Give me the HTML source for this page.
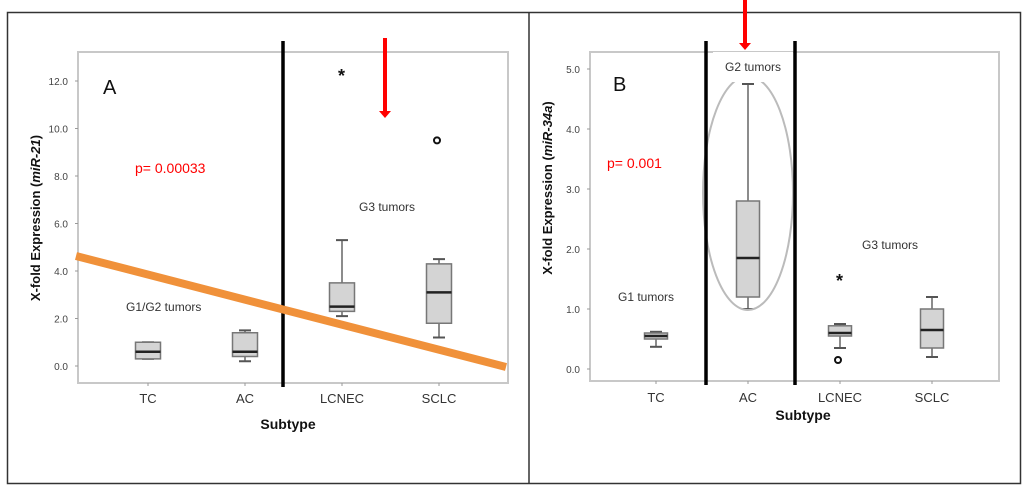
<!DOCTYPE html>
<html><head><meta charset="utf-8"><style>
html,body{margin:0;padding:0;background:#fff;width:1024px;height:489px;overflow:hidden}
svg{display:block;font-family:"Liberation Sans",sans-serif}
</style></head><body>
<svg id="c" width="1024" height="489" viewBox="0 0 1024 489"></svg>
<script>
const categories = ["TC","AC","LCNEC","SCLC"];
// panel A (miR-21)
const aLo  = [0.3, 0.2, 2.1, 1.2];
const aQ1  = [0.3, 0.4, 2.3, 1.8];
const aMed = [0.6, 0.6, 2.5, 3.1];
const aQ3  = [1.0, 1.4, 3.5, 4.3];
const aHi  = [1.0, 1.5, 5.3, 4.5];
const aTicks = [0,2,4,6,8,10,12];
const aStars = [[2, 12.3]];
const aCircles = [[3, 9.5]];
// panel B (miR-34a)
const bLo  = [0.37, 1.0, 0.35, 0.2];
const bQ1  = [0.5, 1.2, 0.55, 0.35];
const bMed = [0.55, 1.85, 0.6, 0.65];
const bQ3  = [0.6, 2.8, 0.72, 1.0];
const bHi  = [0.62, 4.75, 0.75, 1.2];
const bTicks = [0,1,2,3,4,5];
const bStars = [[2, 1.5]];
const bCircles = [[2, 0.15]];

const NS="http://www.w3.org/2000/svg";
const svg=document.getElementById('c');
function mk(tag,attrs,parent,text){const e=document.createElementNS(NS,tag);for(const k in attrs)e.setAttribute(k,attrs[k]);if(text!==undefined)e.textContent=text;(parent||svg).appendChild(e);return e;}

// outer frames
let f=mk('rect',{x:7.5,y:12.5,width:1013,height:471,fill:'none',stroke:'#333','stroke-width':1.5});


let d=mk('line',{x1:529,y1:12,x2:529,y2:484,stroke:'#333','stroke-width':1.5});



function panel(cfg){
  const g=mk('g',{});
  
  
  const y=v=>cfg.y0-(v)*cfg.ppu;
  const x=i=>cfg.xs0+i*cfg.dx;
  const box=mk('rect',{x:cfg.L,y:cfg.T,width:cfg.R-cfg.L,height:cfg.B-cfg.T,fill:'none',stroke:'#c8c8c8','stroke-width':2},g);
  
  
  cfg.ticks.forEach(t=>{
    const tl=mk('line',{x1:cfg.L-3,x2:cfg.L,y1:y(t),y2:y(t),stroke:'#999'},g);
    
    
    const tx=mk('text',{x:cfg.L-10,y:y(t)+4,'text-anchor':'end','font-size':10,fill:'#444'},g,t.toFixed(1));
    
    
  });
  categories.forEach((c,i)=>{
    const tl=mk('line',{x1:x(i),x2:x(i),y1:cfg.B,y2:cfg.B+3,stroke:'#999'},g);
    
    
    const tx=mk('text',{x:x(i),y:cfg.xlabY,'text-anchor':'middle','font-size':13,fill:'#333'},g,c);
    
    
    const bg=mk('g',{},g);
    
    
    const w=cfg.bw;
    mk('line',{x1:x(i),x2:x(i),y1:y(cfg.lo[i]),y2:y(cfg.hi[i]),stroke:'#666','stroke-width':1.5},bg);
    [cfg.lo[i],cfg.hi[i]].forEach(v=>mk('line',{x1:x(i)-6,x2:x(i)+6,y1:y(v),y2:y(v),stroke:'#555','stroke-width':2},bg));
    mk('rect',{x:x(i)-w/2,y:y(cfg.q3[i]),width:w,height:y(cfg.q1[i])-y(cfg.q3[i]),fill:'#d4d4d4',stroke:'#777','stroke-width':1.5},bg);
    mk('line',{x1:x(i)-w/2,x2:x(i)+w/2,y1:y(cfg.med[i]),y2:y(cfg.med[i]),stroke:'#222','stroke-width':2.5},bg);
  });
  cfg.stars.forEach(s=>{const t=mk('text',{x:x(s[0])-4,y:y(s[1])+8,'font-size':18,'font-weight':'bold',fill:'#111'},g,'*');
    });
  cfg.circles.forEach(s=>{const c=mk('circle',{cx:x(s[0])-2,cy:y(s[1]),r:3,fill:'none',stroke:'#111','stroke-width':2},g);
    });
  const yl=mk('text',{transform:`translate(${cfg.ylx},${cfg.yly}) rotate(-90)`,'text-anchor':'middle','font-size':13,'font-weight':'bold',fill:'#111'},g);
  yl.innerHTML='X-fold Expression (<tspan font-style="italic">'+cfg.mir+'</tspan>)';
  
  
  const xl=mk('text',{x:cfg.subX,y:cfg.subY,'text-anchor':'middle','font-size':14,'font-weight':'bold',fill:'#111'},g,'Subtype');
  
  
  return g;
}
const gA=panel({name:'panel-a',L:78,R:508,T:52,B:383,y0:366,ppu:23.75,xs0:148,dx:97,bw:25,ticks:aTicks,
  lo:aLo,q1:aQ1,med:aMed,q3:aQ3,hi:aHi,stars:aStars,circles:aCircles,xlabY:403,subX:288,subY:429,ylx:40,yly:218,mir:'miR-21'});
const gB=panel({name:'panel-b',L:590,R:999,T:52,B:381,y0:369,ppu:60,xs0:656,dx:92,bw:23,ticks:bTicks,
  lo:bLo,q1:bQ1,med:bMed,q3:bQ3,hi:bHi,stars:bStars,circles:bCircles,xlabY:402,subX:803,subY:420,ylx:552,yly:188,mir:'miR-34a'});

function el(tag,attrs,name,text){const e=mk(tag,attrs,svg,text);return e;}
// Panel A annotations
el('line',{x1:283,y1:41,x2:283,y2:387,stroke:'#000','stroke-width':3.5},'group-divider-a');
el('line',{x1:76,y1:256,x2:506,y2:367,stroke:'#f0913a','stroke-width':8},'trend-line');
el('line',{x1:385,y1:38,x2:385,y2:112,stroke:'#f00','stroke-width':4},'arrow-a');
el('polygon',{points:'379,111 391,111 385,118',fill:'#f00'},'arrow-a-head');
el('text',{x:103,y:94,'font-size':20,fill:'#111'},'panel-label-a','A');
el('text',{x:135,y:173,'font-size':14,fill:'#f00'},'p-value-a','p= 0.00033');
el('text',{x:359,y:211,'font-size':12,fill:'#333'},'g3-label-a','G3 tumors');
el('text',{x:126,y:311,'font-size':12,fill:'#333'},'g1g2-label','G1/G2 tumors');
// Panel B annotations
el('ellipse',{cx:748,cy:193,rx:45,ry:117,fill:'none',stroke:'#bbb','stroke-width':2},'ac-highlight');
el('rect',{x:713,y:52,width:80,height:30,fill:'#fff'},'g2-label-bg');
el('text',{x:753,y:71,'text-anchor':'middle','font-size':12,fill:'#333'},'g2-label','G2 tumors');
el('line',{x1:706,y1:41,x2:706,y2:385,stroke:'#000','stroke-width':3.5},'group-divider-b1');
el('line',{x1:795,y1:41,x2:795,y2:385,stroke:'#000','stroke-width':3.5},'group-divider-b2');
el('line',{x1:745,y1:0,x2:745,y2:44,stroke:'#f00','stroke-width':4},'arrow-b');
el('polygon',{points:'739,43 751,43 745,50',fill:'#f00'},'arrow-b-head');
el('text',{x:613,y:91,'font-size':20,fill:'#111'},'panel-label-b','B');
el('text',{x:607,y:168,'font-size':14,fill:'#f00'},'p-value-b','p= 0.001');
el('text',{x:862,y:249,'font-size':12,fill:'#333'},'g3-label-b','G3 tumors');
el('text',{x:618,y:301,'font-size':12,fill:'#333'},'g1-label','G1 tumors');
</script>
</body></html>
